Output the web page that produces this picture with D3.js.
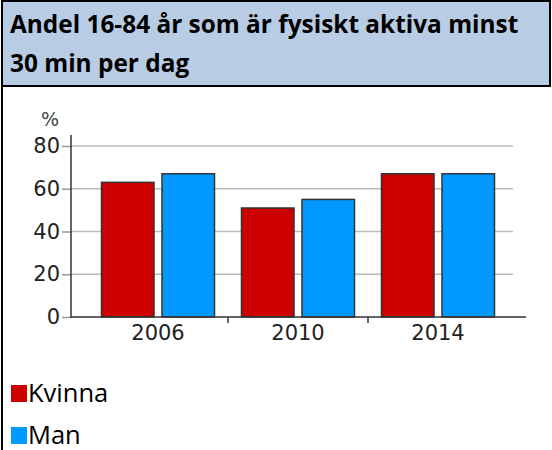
<!DOCTYPE html>
<html>
<head>
<meta charset="utf-8">
<script src="https://cdn.jsdelivr.net/npm/d3@7"></script>
<style>
  body { margin: 0; background: #fff; }
  svg { display: block; }
</style>
</head>
<body>
<div id="chart"></div>
<script>
var years = ['2006', '2010', '2014'];
var kvinna = [63, 51, 67];
var man = [67, 55, 67];
var seriesNames = ['Kvinna', 'Man'];
var seriesColors = ['#cc0000', '#0099ff'];
var yTicks = [0, 20, 40, 60, 80];
var titleLines = ['Andel 16-84 år som är fysiskt aktiva minst', '30 min per dag'];

var W = 552, H = 450;
var svg = d3.select('#chart').append('svg')
   .attr('width', W)
   .attr('height', H);

// frame + header
svg.append('rect')
   .attr('x', 2).attr('y', 1)
   .attr('width', 548).attr('height', 85)
   .attr('fill', '#b8cce4')
   .attr('stroke', '#000')
   .attr('stroke-width', 2);
svg.append('line')
   .attr('x1', 2).attr('x2', 2)
   .attr('y1', 0).attr('y2', H)
   .attr('stroke', '#000').attr('stroke-width', 2);
svg.append('line')
   .attr('x1', 2).attr('x2', 550)
   .attr('y1', 86.5).attr('y2', 86.5)
   .attr('stroke', '#000').attr('stroke-width', 1);

svg.selectAll('text.title')
   .data(titleLines)
   .enter().append('text')
   .attr('class', 'title')
   .attr('x', 10)
   .attr('y', function(d, i) { return 33 + i * 39; })
   .attr('font-family', '"Open Sans", sans-serif')
   .attr('font-weight', 'bold')
   .attr('font-size', 24.4)
   .attr('fill', '#000')
   .text(function(d) { return d; });

// scales
var yS = d3.scaleLinear().domain([0, 80]).range([317, 146]);
var xS = d3.scaleBand().domain(years).range([88, 508]);
var xSub = d3.scaleBand().domain(seriesNames).range([0, xS.bandwidth()])
   .paddingInner(0.132).paddingOuter(0.223);

// gridlines
svg.append('g')
   .selectAll('line')
   .data(yTicks.slice(1))
   .enter().append('line')
   .attr('x1', 71).attr('x2', 513)
   .attr('y1', function(d) { return yS(d); })
   .attr('y2', function(d) { return yS(d); })
   .attr('stroke', '#bbbbbb')
   .attr('stroke-width', 1.5);

// y axis
var yAxis = svg.append('g')
   .attr('transform', 'translate(71,0)')
   .call(d3.axisLeft(yS).tickValues(yTicks).tickSize(9).tickPadding(2));
yAxis.select('.domain').remove();
yAxis.selectAll('.tick line').attr('stroke', '#999').attr('stroke-width', 1.5);
yAxis.selectAll('text')
   .attr('font-family', 'DejaVu Sans, Verdana, sans-serif')
   .attr('font-size', 21)
   .attr('fill', '#222');
svg.append('line')
   .attr('x1', 71).attr('x2', 71)
   .attr('y1', 135).attr('y2', 318)
   .attr('stroke', '#333').attr('stroke-width', 1.5);

svg.append('text')
   .attr('x', 41).attr('y', 126)
   .attr('font-family', 'DejaVu Sans, Verdana, sans-serif')
   .attr('font-size', 19)
   .attr('fill', '#444')
   .text('%');

// bars
var groups = svg.selectAll('g.year')
   .data(years)
   .enter().append('g')
   .attr('class', 'year')
   .attr('transform', function(d) { return 'translate(' + xS(d) + ',0)'; });
groups.selectAll('rect')
   .data(function(d, i) {
      return [{ s: 'Kvinna', v: kvinna[i], c: seriesColors[0] },
              { s: 'Man', v: man[i], c: seriesColors[1] }];
   })
   .enter().append('rect')
   .attr('x', function(d) { return xSub(d.s); })
   .attr('width', xSub.bandwidth())
   .attr('y', function(d) { return yS(d.v); })
   .attr('height', function(d) { return yS(0) - yS(d.v); })
   .attr('fill', function(d) { return d.c; })
   .attr('stroke', '#333')
   .attr('stroke-width', 1.5);

// x axis
var xAxis = svg.append('g')
   .attr('transform', 'translate(0,317)')
   .call(d3.axisBottom(xS).tickSize(0).tickPadding(8));
xAxis.select('.domain').remove();
xAxis.selectAll('text')
   .attr('font-family', 'DejaVu Sans, Verdana, sans-serif')
   .attr('font-size', 21)
   .attr('fill', '#222');
svg.append('line')
   .attr('x1', 71).attr('x2', 526)
   .attr('y1', 317).attr('y2', 317)
   .attr('stroke', '#333').attr('stroke-width', 1.5);
svg.selectAll('line.sep')
   .data(years.slice(1))
   .enter().append('line')
   .attr('class', 'sep')
   .attr('x1', function(d) { return xS(d); })
   .attr('x2', function(d) { return xS(d); })
   .attr('y1', 317).attr('y2', 323)
   .attr('stroke', '#333').attr('stroke-width', 1.5);

// legend
var leg = svg.selectAll('g.leg')
   .data(seriesNames)
   .enter().append('g')
   .attr('class', 'leg')
   .attr('transform', function(d, i) { return 'translate(11,' + (385 + i * 42) + ')'; });
leg.append('rect')
   .attr('width', 16).attr('height', 17)
   .attr('fill', function(d, i) { return seriesColors[i]; });
leg.append('text')
   .attr('x', 17).attr('y', 17)
   .attr('font-family', '"Open Sans", sans-serif')
   .attr('font-size', 25.5)
   .attr('fill', '#000')
   .text(function(d) { return d; });
</script>
</body>
</html>
